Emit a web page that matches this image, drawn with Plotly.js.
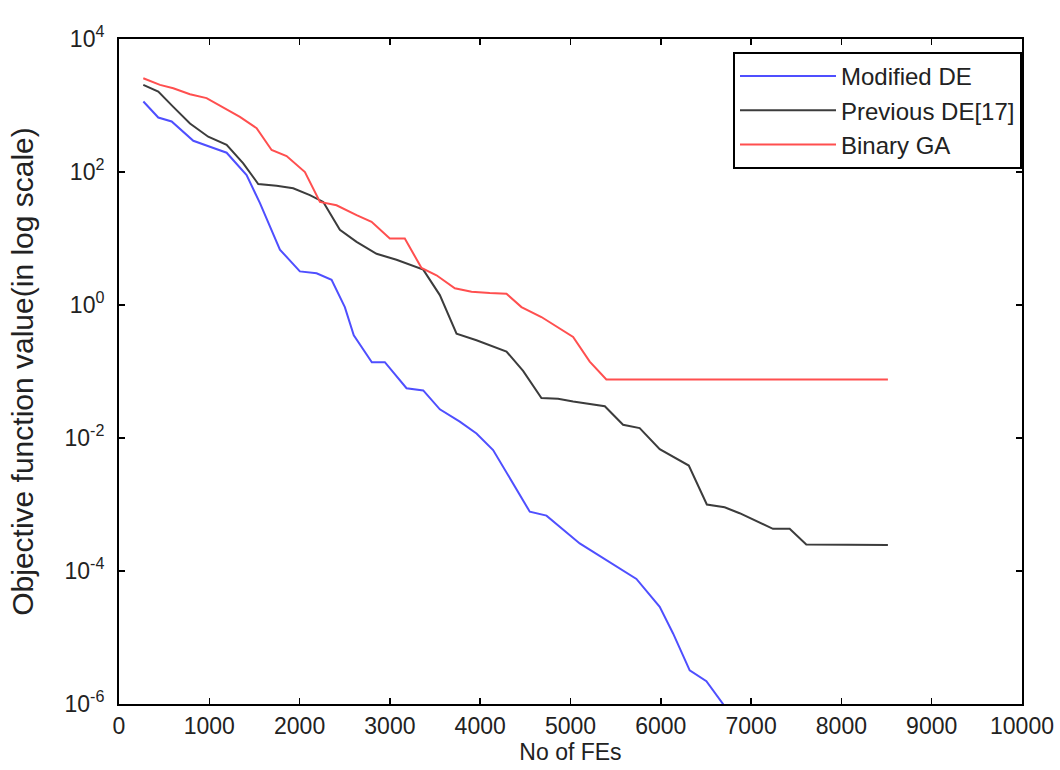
<!DOCTYPE html>
<html>
<head>
<meta charset="utf-8">
<script src="https://cdn.plot.ly/plotly-3.0.1.min.js"></script>
<style>html,body{margin:0;padding:0;background:#fff;}#chart{width:1060px;height:770px;}</style>
</head>
<body>
<div id="chart"></div>
<script>
// Modified DE
const xModified = [270, 435, 583, 823, 1007, 1192, 1413, 1561, 1782, 2003, 2188, 2354, 2501, 2600, 2800, 2944, 3184, 3369, 3553, 3774, 3959, 4143, 4549, 4734, 5102, 5730, 5988, 6136, 6320, 6505, 6689, 6900];
const yModified = [1150, 660, 575, 295, 240, 195, 90, 34, 6.8, 3.2, 3.0, 2.4, 0.93, 0.35, 0.138, 0.138, 0.056, 0.052, 0.027, 0.0176, 0.0117, 0.0066, 7.8e-4, 6.8e-4, 2.6e-4, 7.6e-5, 2.9e-5, 1.15e-5, 3.2e-6, 2.2e-6, 1.0e-6, 2.5e-7];
// Previous DE [17]
const xPrevious = [269, 435, 601, 786, 988, 1192, 1376, 1542, 1745, 1929, 2114, 2262, 2446, 2631, 2852, 3073, 3369, 3553, 3738, 3959, 4291, 4475, 4678, 4862, 5029, 5380, 5582, 5766, 5988, 6310, 6510, 6707, 6873, 7242, 7427, 7611, 8515];
const yPrevious = [2040, 1620, 955, 537, 339, 257, 135, 66, 62, 57, 45, 35.5, 13.5, 8.9, 5.9, 4.8, 3.4, 1.41, 0.37, 0.295, 0.2, 0.102, 0.04, 0.039, 0.0355, 0.03, 0.0158, 0.0141, 0.0068, 0.00385, 0.001, 9.1e-4, 7.4e-4, 4.3e-4, 4.3e-4, 2.5e-4, 2.45e-4];
// Binary GA
const xBinary = [269, 454, 601, 786, 970, 1118, 1339, 1524, 1690, 1856, 2059, 2225, 2409, 2631, 2797, 2999, 3165, 3350, 3516, 3719, 3904, 4106, 4291, 4457, 4678, 5029, 5213, 5397, 8515];
const yBinary = [2570, 2040, 1820, 1480, 1290, 1000, 676, 457, 214, 174, 100, 35.5, 31.6, 22.4, 17.8, 10, 10, 3.6, 2.8, 1.78, 1.58, 1.51, 1.48, 0.93, 0.66, 0.33, 0.141, 0.076, 0.076];

const xTickVals = [0, 1000, 2000, 3000, 4000, 5000, 6000, 7000, 8000, 9000, 10000];
const xTickText = ['0', '1000', '2000', '3000', '4000', '5000', '6000', '7000', '8000', '9000', '10000'];
const yTickVals = [1e-6, 1e-4, 1e-2, 1, 1e2, 1e4];
const yTickText = ['10<sup>-6</sup>', '10<sup>-4</sup>', '10<sup>-2</sup>', '10<sup>0</sup>', '10<sup>2</sup>', '10<sup>4</sup>'];

const names = ['Modified DE', 'Previous DE[17]', 'Binary GA'];
const colors = ['#4f4fff', '#3c3c3c', '#ff4f4f'];

const traces = [
  {x: xModified, y: yModified},
  {x: xPrevious, y: yPrevious},
  {x: xBinary, y: yBinary}
].map((t, i) => ({
  x: t.x, y: t.y, type: 'scatter', mode: 'lines', name: names[i],
  legendgroup: 'g' + i,
  line: {color: colors[i], width: 2}
}));

const fontFam = 'Liberation Sans, Arial, sans-serif';
const layout = {
  width: 1060, height: 770,
  margin: {l: 119, r: 37.5, t: 39, b: 66},
  paper_bgcolor: '#fff', plot_bgcolor: '#fff',
  font: {family: fontFam, color: '#222', size: 23},
  showlegend: true,
  legend: {
    x: 1, xanchor: 'right', y: 0.9805, yanchor: 'top',
    bgcolor: '#fff', bordercolor: '#000', borderwidth: 2,
    font: {family: fontFam, size: 24, color: '#222'},
    traceorder: 'grouped', tracegroupgap: 0,
    itemwidth: 96
  },
  xaxis: {
    range: [0, 10000], tickvals: xTickVals, ticktext: xTickText,
    ticks: 'inside', ticklen: 6, tickwidth: 1.5, tickcolor: '#000',
    showline: true, linecolor: '#000', linewidth: 2, mirror: 'ticks',
    showgrid: false, zeroline: false,
    tickfont: {family: fontFam, size: 23, color: '#222'},
    title: {text: 'No of FEs', font: {family: fontFam, size: 23, color: '#222'}, standoff: 6}
  },
  yaxis: {
    type: 'log', range: [-6, 4], tickvals: yTickVals, ticktext: yTickText,
    ticks: 'inside', ticklen: 6, tickwidth: 1.5, tickcolor: '#000',
    showline: true, linecolor: '#000', linewidth: 2, mirror: 'ticks',
    showgrid: false, zeroline: false,
    ticklabelstandoff: 8,
    tickfont: {family: fontFam, size: 23, color: '#222'},
    title: {text: 'Objective function value(in log scale)', font: {family: fontFam, size: 30, color: '#222'}, standoff: 22}
  }
};

Plotly.newPlot('chart', traces, layout, {staticPlot: true, displayModeBar: false});
</script>
</body>
</html>
